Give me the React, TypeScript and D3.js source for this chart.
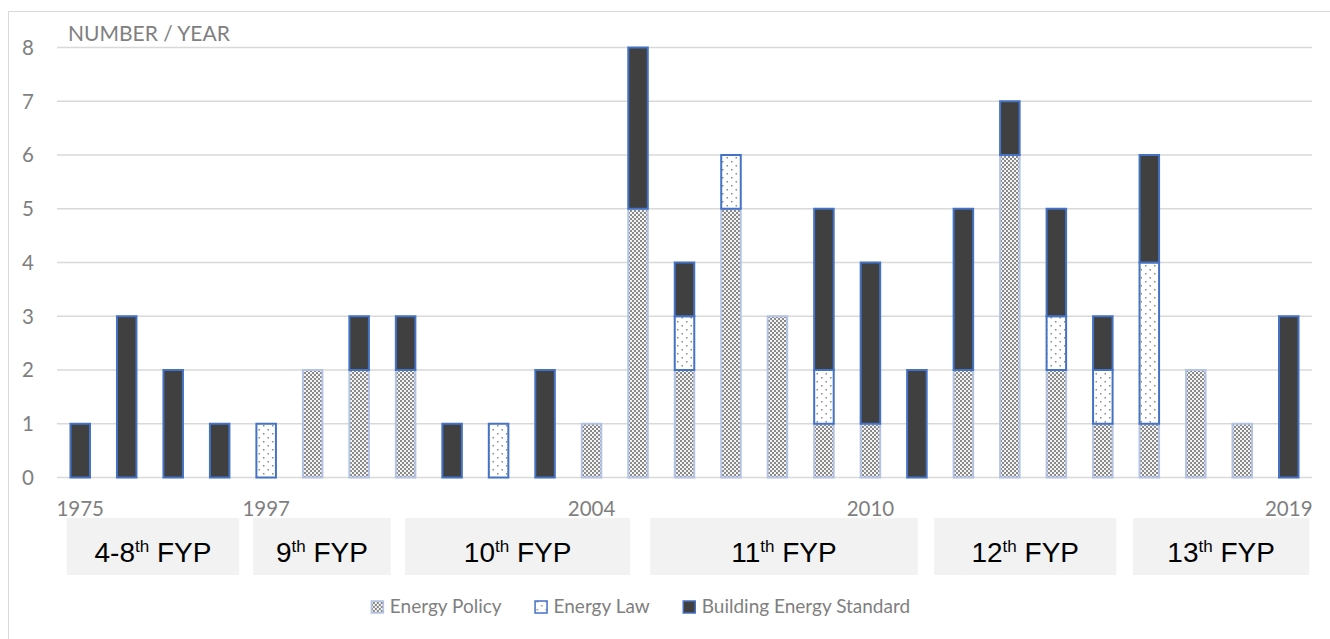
import React, { useEffect, useRef } from "react";
import * as d3 from "d3";

const categories = ["1975","","","","1997","","","","","","","2004","","","","","","2010","","","","","","","","","2019"];
const energyPolicy = [0,0,0,0,0,2,2,2,0,0,0,1,5,2,5,3,1,1,0,2,6,2,1,1,2,1,0];
const energyLaw    = [0,0,0,0,1,0,0,0,0,1,0,0,0,1,1,0,1,0,0,0,0,1,1,3,0,0,0];
const buildingStd  = [1,3,2,1,0,0,1,1,1,0,2,0,3,1,0,0,3,3,2,3,1,2,1,2,0,0,3];
const seriesNames = ["Energy Policy", "Energy Law", "Building Energy Standard"];
const yTicks = [0,1,2,3,4,5,6,7,8];
const fypMain = ["4-8", "9", "10", "11", "12", "13"];
const fypStart = [0.21, 4.22, 7.49, 12.76, 18.87, 23.15];
const fypEnd = [3.92, 7.18, 12.33, 18.52, 22.79, 26.94];

const W = 1330, H = 639;
const CAL = "Lato, 'Open Sans', sans-serif";
const ARIAL = "'Liberation Sans', Arial, sans-serif";
const GREY = "#7f7f7f";

export default function App() {
  const ref = useRef<SVGSVGElement | null>(null);
  useEffect(() => {
    const svg = d3.select(ref.current);
    svg.selectAll("*").remove();

    const defs = svg.append("defs");
    const p1 = defs.append("pattern").attr("id", "patPolicy").attr("patternUnits", "userSpaceOnUse").attr("width", 4).attr("height", 4);
    p1.append("rect").attr("width", 4).attr("height", 4).attr("fill", "#f4f4f4");
    p1.append("rect").attr("x", 0).attr("y", 0).attr("width", 2).attr("height", 2).attr("fill", "#8a8a8a");
    p1.append("rect").attr("x", 2).attr("y", 2).attr("width", 2).attr("height", 2).attr("fill", "#8a8a8a");
    const p2 = defs.append("pattern").attr("id", "patLaw").attr("patternUnits", "userSpaceOnUse").attr("width", 9).attr("height", 8);
    p2.append("rect").attr("width", 9).attr("height", 8).attr("fill", "#ffffff");
    p2.append("rect").attr("x", 2).attr("y", 1).attr("width", 1.5).attr("height", 1.5).attr("fill", "#8a8a8a");
    p2.append("rect").attr("x", 6.5).attr("y", 5).attr("width", 1.5).attr("height", 1.5).attr("fill", "#8a8a8a");

    // outer chart border
    svg.append("rect").attr("x", 8.5).attr("y", 11.5).attr("width", W + 20).attr("height", H + 20)
      .attr("fill", "#ffffff").attr("stroke", "#d9d9d9").attr("stroke-width", 1);

    const idx = categories.map((_, i) => String(i));
    const x = d3.scaleBand<string>().domain(idx).range([57, 1312]).paddingInner(0.58).paddingOuter(0.29);
    const y = d3.scaleLinear().domain([0, 8]).range([477.5, 47.5]);

    // gridlines
    svg.append("g").selectAll("line").data(yTicks).join("line")
      .attr("x1", 57).attr("x2", 1312)
      .attr("y1", d => y(d)).attr("y2", d => y(d))
      .attr("stroke", "#d9d9d9").attr("stroke-width", 1.5);

    // y labels
    svg.append("g").selectAll("text").data(yTicks).join("text")
      .attr("x", 34).attr("y", d => y(d)).attr("dy", "0.36em")
      .attr("text-anchor", "end").attr("font-family", CAL).attr("font-size", 20.5).attr("fill", GREY)
      .text(d => String(d));

    svg.append("text").attr("x", 68).attr("y", 41).attr("font-family", CAL).attr("font-size", 21)
      .attr("fill", GREY).text("NUMBER / YEAR");

    // stacked bars
    const rows = categories.map((_, i) => ({ i: String(i), policy: energyPolicy[i], law: energyLaw[i], std: buildingStd[i] }));
    const stack = d3.stack<any>().keys(["policy", "law", "std"]);
    const layers = stack(rows as any);
    const fills = ["url(#patPolicy)", "url(#patLaw)", "#404040"];
    const strokes = ["#b4c3e4", "#4472c4", "#4472c4"];
    layers.forEach((layer, li) => {
      svg.append("g").selectAll("rect").data(layer.filter(d => d[1] - d[0] > 0)).join("rect")
        .attr("x", (d: any) => x(d.data.i)!)
        .attr("width", x.bandwidth())
        .attr("y", d => y(d[1]))
        .attr("height", d => y(d[0]) - y(d[1]))
        .attr("fill", fills[li])
        .attr("stroke", strokes[li])
        .attr("stroke-width", 2);
    });

    // x labels
    svg.append("g").selectAll("text").data(rows.filter((_, i) => categories[i] !== "")).join("text")
      .attr("x", d => x(d.i)! + x.bandwidth() / 2).attr("y", 516)
      .attr("text-anchor", "middle").attr("font-family", CAL).attr("font-size", 20.5).attr("fill", GREY)
      .text(d => categories[+d.i]);

    // FYP boxes
    const x0 = x.range()[0], st = x.step();
    const fg = svg.append("g");
    fypMain.forEach((m, k) => {
      const bx0 = x0 + fypStart[k] * st, bx1 = x0 + fypEnd[k] * st;
      fg.append("rect").attr("x", bx0).attr("y", 518).attr("width", bx1 - bx0).attr("height", 57).attr("fill", "#f2f2f2");
      const t = fg.append("text").attr("x", (bx0 + bx1) / 2).attr("y", 562).attr("text-anchor", "middle")
        .attr("font-family", ARIAL).attr("font-size", 28).attr("fill", "#000000");
      t.append("tspan").text(m);
      t.append("tspan").attr("font-size", 17).attr("dy", -10).text("th");
      t.append("tspan").attr("dy", 10).text(" FYP");
    });

    // legend
    const lg = svg.append("g");
    const items = seriesNames.map((name, k) => {
      const g = lg.append("g");
      g.append("rect").attr("x", 0.5).attr("y", 601).attr("width", 12).attr("height", 12)
        .attr("fill", fills[k]).attr("stroke", strokes[k]).attr("stroke-width", 1.5);
      const t = g.append("text").attr("x", 19).attr("y", 613).attr("font-family", CAL).attr("font-size", 19)
        .attr("fill", GREY).text(name);
      const w = 19 + (t.node() as SVGTextElement).getComputedTextLength();
      return { g, w };
    });
    const gap = 33;
    const total = items.reduce((s, it) => s + it.w, 0) + gap * (items.length - 1);
    let cx = 640.5 - total / 2;
    items.forEach(it => { it.g.attr("transform", `translate(${cx},0)`); cx += it.w + gap; });
  }, []);

  return (
    <svg ref={ref} width={W} height={H} style={{ position: "absolute", left: 0, top: 0, background: "#fff" }} />
  );
}
